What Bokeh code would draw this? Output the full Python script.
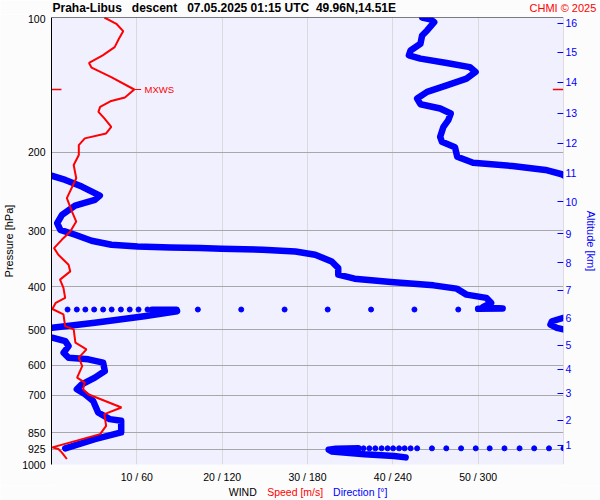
from bokeh.plotting import figure
from bokeh.layouts import column
from bokeh.models import Range1d, LinearAxis, FixedTicker, Label, Span, Grid
from bokeh.core.properties import value
from bokeh.embed import file_html
from bokeh.resources import INLINE

nan = float("nan")
NB = "\u00a0"

# ---------------- data ----------------
title_text = ("Praha-Libus" + NB * 3 + "descent" + NB * 3 + "07.05.2025 01:15 UTC"
              + NB * 2 + "49.96N,14.51E")
credit_text = "CHMI \u00a9 2025"

# wind speed profile [m/s] vs pressure [hPa]
speed_p = [100, 103.3, 107.3, 111.6, 116.5, 121.5, 126.4, 129.5, 135.9, 144.9,
           151, 153.7, 158.5, 162.6, 168.2, 175.6, 181.7, 186.4, 192.9, 203.1,
           213.8, 228.9, 253.6, 271.8, 286.1, 301, 314.3, 328, 339.4, 357.3,
           369.8, 385.8, 402.6, 423.9, 434.9, 448.9, 461.7, 490.3, 498.7, 534,
           552.7, 576.8, 602.2, 639.2, 655.8, 678.8, 696.4, 745.6, 771.6, 819.5,
           855.1, 915.4, 923.4, 939.3, 972.1]
speed_ms = [6.2, 7.6, 8.4, 7.9, 7.4, 6.0, 4.4, 4.7, 7.0, 9.7,
            8.6, 7.0, 5.7, 5.5, 6.2, 7.0, 6.4, 3.9, 3.2, 3.2,
            2.6, 2.9, 1.8, 2.4, 2.9, 2.2, 1.2, 0.3, 0.8, 2.0,
            2.2, 1.0, 1.4, 1.6, 0.5, 0.1, 1.4, 1.6, 2.6, 2.8,
            4.1, 3.2, 3.6, 3.0, 3.9, 3.7, 4.3, 8.2, 6.2, 6.4,
            5.7, 0.1, 0.8, 1.2, 1.8]

# wind direction [deg] vs pressure, continuous trace (nan = break at wrap)
dir_p = [100, 100.9, 102.4, 106.9, 109.7, 114.5, 118.5, 121.5, 123.6, 126.4,
         129.1, 132.4, 137, 141.8, 146.7, 151.8, 156.3, 159.8, 164, 169.7,
         175.6, 184.9, 189.7, 195.2, 204.9, 211.3, 214.9, 219.3, 224.2, 225.5, nan,
         225.9, 230.9, 238.9, 250.3, 255.9, 263.5, 276.4, 288.4, 298.5, 306.2,
         315.8, 322.4, 325.2, 326.8, 328, 329.1, 330.8, 333.7, 339.4, 351.3,
         363.4, 376.1, 383.9, 390.5, 397.4, 404.2, 416.8, 423.9, 434.9, 444.8,
         447.7, 448.5, nan,
         450.8, 450.8, 454, 465.9, 481.9, 494.5, nan,
         469.7, 478.1, 486.3, 494.5, 498.7, nan,
         520.4, 529.7, 543.4, 562.2, 576.8, 581.8, 591.7, 617.9, 639.2, 661.5,
         678.8, 696.4, 720.9, 764.8, 791.6, 798.5, 847.8, 877.4, 920.2, nan,
         920.2, 922, 927, 935, 949, 957, 964]
dir_deg = [260.6, 266.3, 269.1, 264.1, 260.6, 259.4, 252.5, 251.3, 259.4, 277.9,
           294.1, 298.2, 291.8, 277.9, 264.1, 257.1, 259.4, 273.3, 280.7, 279,
           275.6, 273.3, 274.5, 283.7, 285.3, 296.4, 324.1, 347.3, 358.8, 360, nan,
           0, 9.7, 21.3, 34, 30.5, 16.6, 7.4, 4.0, 6.2, 16.6,
           28.2, 42.1, 60.6, 83.7, 104.5, 119.5, 148.4, 171.5, 185.4, 197,
           201.6, 201.6, 213.1, 238.6, 268.6, 284.9, 291.8, 305.7, 309.1, 303.3,
           317.2, 300, nan,
           70.7, 88.1, 88.3, 65.2, 30.5, 0.5, nan,
           360, 351.9, 350.8, 355.3, 360, nan,
           0.5, 9.7, 12, 8.5, 12, 25.9, 36.3, 37.5, 30.5, 21.3,
           17.8, 23.6, 29.3, 32.8, 40.9, 49, 49, 30.5, 9.7, nan,
           215.7, 200, 194.9, 197, 220.1, 240.9, 249]

# isolated direction samples (dotted rows)
dots_deg = [286, 255.2, 224.7, 194.2, 163.9, 133.4, 102.9, 67.5, 61.2, 55,
            48.8, 42.3, 36.3, 30, 23.8, 17.8, 11.3,
            360, 349.8, 339.4, 329.1, 318.5, 308.1, 298.3, 288, 277.6, 267.5,
            257.1, 252.5, 248.3, 244.4, 240.2, 236.3, 232.1, 227.7, 223.5, 219.4]
dots_p = [450.1, 450.1, 450.1, 450.1, 450.1, 450.1, 450.1, 450.1, 450.1, 450.1,
          450.1, 450.1, 450.1, 450.1, 450.1, 450.1, 450.1,
          920.2, 920.2, 920.2, 920.2, 920.2, 920.2, 920.2, 920.2, 920.2, 920.2,
          920.2, 920.2, 920.2, 920.2, 920.2, 920.2, 920.2, 920.2, 920.2, 920.2]

pressure_ticks = [100, 200, 300, 400, 500, 600, 700, 850, 925, 1000]
pressure_grid = [200, 300, 400, 500, 600, 700, 850, 925, 1000]
wind_ticks_deg = [60, 120, 180, 240, 300]
wind_tick_labels = ["10 / 60", "20 / 120", "30 / 180", "40 / 240", "50 / 300"]
alt_km = [1, 2, 3, 4, 5, 6, 7, 8, 9, 10, 11, 12, 13, 14, 15, 16]
alt_p = [905, 796, 693, 612, 541, 471, 408, 353.6, 304.6, 258.5, 222.7, 191,
         163.7, 139.6, 119.7, 103.1]
legend_texts = ["WIND", "Speed [m/s]", "Direction [\u00b0]"]

# ---------------- styling ----------------
W = 600
TOP_H, BOT_H = 14, 15
MAIN_H = 500 - TOP_H - BOT_H
FL, FR = 46, 566            # frame edges (page px)
FONT = "Liberation Sans"
BLUE = "#0000FF"
RED = "#FF0000"
BORDER = "#FCFCFC"


def strip(h):
    # text strip whose frame lines up with the main frame; x in page pixels
    s = figure(width=W, height=h, output_backend="svg", toolbar_location=None,
               x_range=Range1d(FL, FR), y_range=Range1d(h, 0),
               x_axis_location=None, y_axis_location=None,
               min_border_left=FL, min_border_right=W - FR,
               min_border_top=0, min_border_bottom=0)
    s.grid.visible = False
    s.outline_line_color = None
    s.background_fill_color = BORDER
    s.border_fill_color = BORDER
    return s


# top strip: title (in the strip) + credit (as a label on the strip's right edge)
top = strip(TOP_H)
top.text(x=[47], y=[7.5], text=[title_text], text_font=value(FONT),
         text_font_size="12px", text_font_style="bold", text_color="black",
         text_baseline="middle", text_align="left")
cr = LinearAxis(ticker=FixedTicker(ticks=[7.5]), major_label_overrides={7.5: credit_text})
cr.axis_line_color = None
cr.major_tick_line_color = None
cr.minor_tick_line_color = None
cr.major_tick_out = 0
cr.major_tick_in = 0
cr.minor_tick_out = 0
cr.minor_tick_in = 0
cr.major_label_standoff = -34
cr.major_label_text_font = FONT
cr.major_label_text_font_size = "11px"
cr.major_label_text_color = RED
top.add_layout(cr, "right")

# main chart
p = figure(width=W, height=MAIN_H, output_backend="svg", toolbar_location=None,
           x_range=Range1d(0, 360), y_range=Range1d(1000, 100), y_axis_type="log",
           x_axis_location=None, y_axis_location=None,
           min_border_left=FL, min_border_right=W - FR,
           min_border_top=17 - TOP_H, min_border_bottom=500 - BOT_H - 465)
p.extra_x_ranges = {"speed": Range1d(0, 60)}
p.background_fill_color = "#F0F0FF"
p.border_fill_color = BORDER
p.outline_line_color = None
p.grid.visible = False

p.add_layout(Grid(dimension=0, ticker=FixedTicker(ticks=wind_ticks_deg),
                  grid_line_color="#DADADA", grid_line_width=1))
p.add_layout(Grid(dimension=1, ticker=FixedTicker(ticks=pressure_grid),
                  grid_line_color="#A8A8A8", grid_line_width=1))
p.add_layout(Span(location=360, dimension="height", line_color="#C4C4C4", line_width=1))
p.add_layout(Span(location=100, dimension="width", line_color="black", line_width=1.2))

# left pressure axis
ya = LinearAxis(ticker=FixedTicker(ticks=pressure_ticks),
                major_label_overrides={v: str(v) for v in pressure_ticks})
ya.axis_line_color = "black"
ya.major_tick_out = 0
ya.major_tick_in = 0
ya.minor_tick_out = 0
ya.minor_tick_in = 0
ya.major_label_standoff = 6
ya.major_label_text_font = FONT
ya.major_label_text_font_size = "10.5px"
ya.major_label_text_color = "black"
ya.axis_label = "Pressure [hPa]"
ya.axis_label_text_font = FONT
ya.axis_label_text_font_size = "11px"
ya.axis_label_text_font_style = "normal"
ya.axis_label_text_color = "black"
ya.axis_label_standoff = 4
p.add_layout(ya, "left")

# bottom wind axis
xa = LinearAxis(ticker=FixedTicker(ticks=wind_ticks_deg),
                major_label_overrides=dict(zip(wind_ticks_deg, wind_tick_labels)))
xa.axis_line_color = None
xa.major_tick_line_color = None
xa.minor_tick_line_color = None
xa.major_tick_out = 0
xa.major_tick_in = 0
xa.minor_tick_out = 0
xa.minor_tick_in = 0
xa.major_label_standoff = 6
xa.major_label_text_font = FONT
xa.major_label_text_font_size = "10.5px"
xa.major_label_text_color = "black"
p.add_layout(xa, "below")

# right altitude axis
ra = LinearAxis(ticker=FixedTicker(ticks=alt_p),
                major_label_overrides=dict(zip(alt_p, [str(k) for k in alt_km])))
ra.axis_line_color = None
ra.major_tick_in = 6
ra.major_tick_out = 0
ra.minor_tick_line_color = None
ra.major_tick_line_color = BLUE
ra.major_label_standoff = 2
ra.major_label_text_font = FONT
ra.major_label_text_font_size = "10.5px"
ra.major_label_text_color = BLUE
ra.axis_label = "Altitude [km]"
ra.axis_label_text_font = FONT
ra.axis_label_text_font_size = "11px"
ra.axis_label_text_font_style = "normal"
ra.axis_label_text_color = BLUE
ra.axis_label_standoff = 5
p.add_layout(ra, "right")

# direction trace and samples
p.line(dir_deg, dir_p, line_color=BLUE, line_width=6.5, line_cap="round", line_join="round")
p.scatter(dots_deg, dots_p, size=5, color=BLUE)

# speed profile
p.line(speed_ms, speed_p, x_range_name="speed", line_color=RED, line_width=2)

# max wind speed marker
imax = max(range(len(speed_ms)), key=lambda i: speed_ms[i])
mx_s, mx_p = speed_ms[imax], speed_p[imax]
p.segment(x0=[mx_s], y0=[mx_p], x1=[mx_s + 0.8], y1=[mx_p], x_range_name="speed",
          line_color=RED, line_width=1)
p.segment(x0=[0, 352.5], y0=[mx_p, mx_p], x1=[7, 360], y1=[mx_p, mx_p],
          line_color=RED, line_width=1.5)
p.add_layout(Label(x=mx_s + 1.2, y=mx_p, x_range_name="speed", text="MXWS",
                   text_color=RED, text_font=FONT, text_font_size="9.5px",
                   text_baseline="middle", text_align="left"))

# bottom strip: axis legend
bot = strip(BOT_H)
bot.text(x=[226, 265, 332], y=[6.5, 6.5, 6.5], text=legend_texts,
         text_color=["black", RED, BLUE], text_font=value(FONT),
         text_font_size="10.5px", text_baseline="middle", text_align="left")

layout = column(top, p, bot, spacing=0)
open("out.html", "w").write(file_html(layout, INLINE))
